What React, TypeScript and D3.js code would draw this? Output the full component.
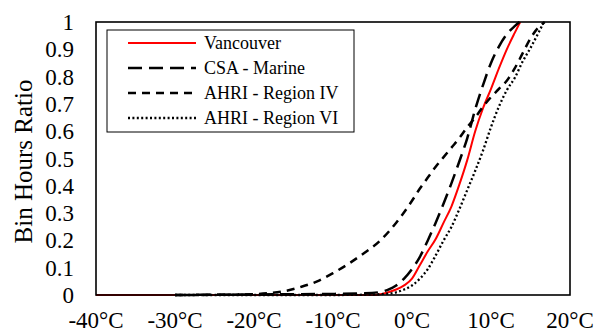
import * as d3 from 'd3';

const xTicks = [-40, -30, -20, -10, 0, 10, 20];
const yTicks = [0, 0.1, 0.2, 0.3, 0.4, 0.5, 0.6, 0.7, 0.8, 0.9, 1];

const vancouverTemps = [-40, -5, -4, -3, -2, -1, 0, 1, 2, 3, 4, 5, 6, 7, 8, 9, 10, 11, 12, 13, 13.7];
const vancouverRatio = [0, 0, 0.003, 0.01, 0.02, 0.035, 0.06, 0.11, 0.16, 0.205, 0.265, 0.325, 0.405, 0.495, 0.6, 0.685, 0.755, 0.83, 0.9, 0.96, 1.0];

const csaTemps = [-30, -20, -10, -6, -4, -3, -2, -1, 0, 1, 2, 3, 4, 5, 6, 7, 8, 9, 10, 11, 12, 13, 13.6];
const csaRatio = [0, 0.002, 0.004, 0.006, 0.011, 0.02, 0.035, 0.06, 0.095, 0.14, 0.2, 0.265, 0.335, 0.41, 0.49, 0.575, 0.68, 0.77, 0.85, 0.91, 0.955, 0.985, 1.0];

const ahri4Temps = [-30, -24, -20, -18, -16, -14, -12, -10, -8, -6, -4, -2, 0, 1, 2, 3, 4, 5, 6, 7, 8, 9, 10, 11, 12, 13, 14, 15, 16, 16.8];
const ahri4Ratio = [0, 0.001, 0.003, 0.007, 0.015, 0.03, 0.05, 0.08, 0.115, 0.155, 0.2, 0.265, 0.345, 0.39, 0.43, 0.47, 0.505, 0.54, 0.575, 0.615, 0.65, 0.69, 0.725, 0.755, 0.785, 0.83, 0.885, 0.94, 0.98, 1.0];

const ahri6Temps = [-30, -10, -6, -4, -2, -1, 0, 1, 2, 3, 4, 5, 6, 7, 8, 9, 10, 11, 12, 13, 14, 15, 16, 16.7];
const ahri6Ratio = [0, 0, 0.001, 0.003, 0.01, 0.02, 0.035, 0.06, 0.095, 0.145, 0.2, 0.25, 0.315, 0.385, 0.455, 0.53, 0.615, 0.69, 0.75, 0.795, 0.855, 0.905, 0.96, 1.0];

const seriesNames = ['Vancouver', 'CSA - Marine', 'AHRI - Region IV', 'AHRI - Region VI'];

const font = '"Liberation Serif", "Times New Roman", serif';

export default function App() {
  const width = 594;
  const height = 332;
  const margin = { top: 22, right: 24, bottom: 37, left: 96 };
  const innerWidth = width - margin.left - margin.right;
  const innerHeight = height - margin.top - margin.bottom;

  const x = d3.scaleLinear().domain([-40, 20]).range([0, innerWidth]);
  const y = d3.scaleLinear().domain([0, 1]).range([innerHeight, 0]);

  const line = d3
    .line<[number, number]>()
    .x((d) => x(d[0]))
    .y((d) => y(d[1]))
    .curve(d3.curveMonotoneX);

  const zip = (t: number[], v: number[]) => t.map((d, i) => [d, v[i]] as [number, number]);

  // drawing order: red first so the black dashes sit on top near zero
  const series = [
    { name: seriesNames[0], data: zip(vancouverTemps, vancouverRatio), stroke: '#ff0000', width: 2, dash: undefined },
    { name: seriesNames[1], data: zip(csaTemps, csaRatio), stroke: '#000', width: 2.5, dash: '14 7' },
    { name: seriesNames[2], data: zip(ahri4Temps, ahri4Ratio), stroke: '#000', width: 2.5, dash: '8 6' },
    { name: seriesNames[3], data: zip(ahri6Temps, ahri6Ratio), stroke: '#000', width: 2.3, dash: '2 2.4' },
  ];

  return (
    <svg
      width={width}
      height={height}
      viewBox={`0 0 ${width} ${height}`}
      style={{ position: 'absolute', left: 0, top: 0, background: '#fff' }}
      fontFamily={font}
    >
      <g transform={`translate(${margin.left},${margin.top})`}>
        {series.map((s) => (
          <path
            key={s.name}
            d={line(s.data) ?? ''}
            fill="none"
            stroke={s.stroke}
            strokeWidth={s.width}
            strokeDasharray={s.dash}
          />
        ))}

        <rect x={0} y={0} width={innerWidth} height={innerHeight} fill="none" stroke="#000" strokeWidth={1.6} />

        {yTicks.map((tick) => (
          <text key={tick} x={-22} y={y(tick)} dy="0.35em" textAnchor="end" fontSize="23" fill="#000">
            {tick}
          </text>
        ))}

        {xTicks.map((tick) => (
          <text key={tick} x={x(tick)} y={innerHeight + 33} textAnchor="middle" fontSize="23" fill="#000">
            {`${tick}°C`}
          </text>
        ))}

        <g transform="translate(11,8)">
          <rect x={0} y={0} width={247} height={102} fill="#fff" stroke="#000" strokeWidth={1} />
          {series.map((s, i) => (
            <g key={s.name} transform={`translate(0,${13 + i * 25})`}>
              <line x1={21} x2={89} y1={0} y2={0} stroke={s.stroke} strokeWidth={s.width} strokeDasharray={s.dash} />
              <text x={97} y={0} dy="0.35em" fontSize="18" fill="#000">
                {s.name}
              </text>
            </g>
          ))}
        </g>
      </g>

      <text
        transform={`translate(32,${margin.top + innerHeight / 2 + 3}) rotate(-90)`}
        textAnchor="middle"
        fontSize="25"
        fill="#000"
      >
        Bin Hours Ratio
      </text>
    </svg>
  );
}
